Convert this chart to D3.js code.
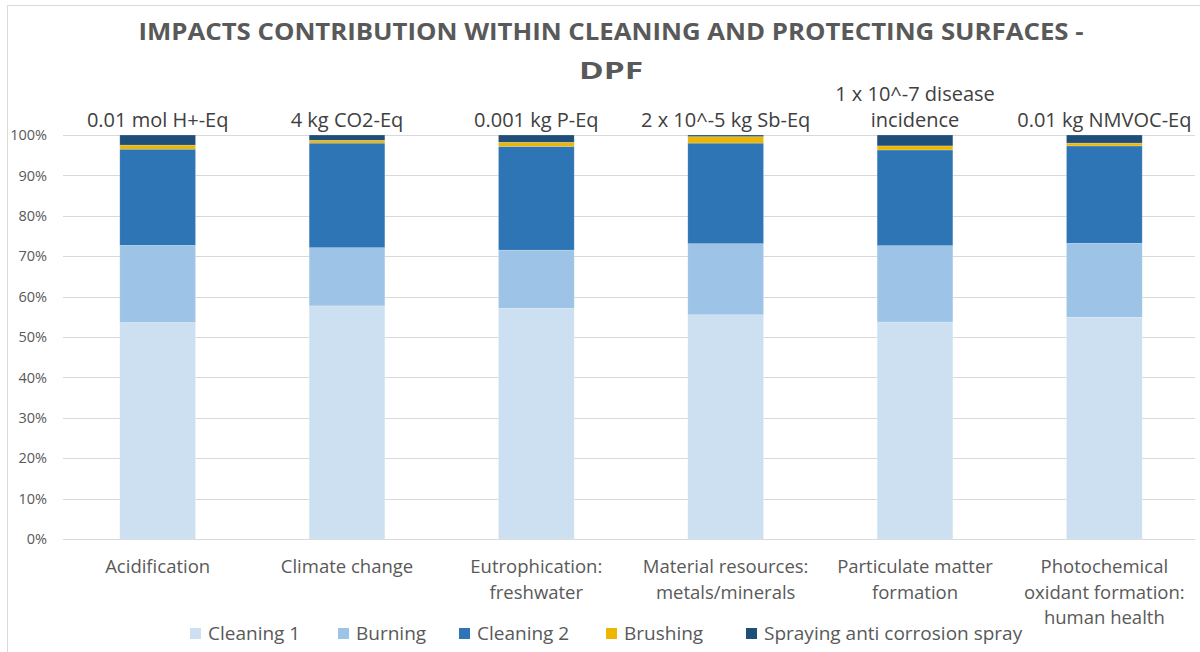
<!DOCTYPE html>
<html>
<head>
<meta charset="utf-8">
<script src="https://cdn.jsdelivr.net/npm/d3@7"></script>
<style>
  html, body { margin: 0; padding: 0; background: #fff; }
  svg { display: block; font-family: "Open Sans", "Noto Sans", sans-serif; }
</style>
</head>
<body>
<svg id="chart" width="1200" height="652"></svg>
<script>
const categories = [
  ["Acidification"],
  ["Climate change"],
  ["Eutrophication:", "freshwater"],
  ["Material resources:", "metals/minerals"],
  ["Particulate matter", "formation"],
  ["Photochemical", "oxidant formation:", "human health"]
];
const unitLabels = [
  ["0.01 mol H+-Eq"],
  ["4 kg CO2-Eq"],
  ["0.001 kg P-Eq"],
  ["2 x 10^-5 kg Sb-Eq"],
  ["1 x 10^-7 disease", "incidence"],
  ["0.01 kg NMVOC-Eq"]
];
const seriesNames = ["Cleaning 1", "Burning", "Cleaning 2", "Brushing", "Spraying anti corrosion spray"];
const cleaning1 = [53.6, 57.7, 57.1, 55.5, 53.7, 54.9];
const burning   = [19.1, 14.4, 14.4, 17.6, 18.9, 18.3];
const cleaning2 = [23.8, 25.9, 25.7, 24.9, 23.7, 24.1];
const brushing  = [1.0, 0.7, 1.0, 1.6, 1.0, 0.7];
const spraying  = [2.5, 1.3, 1.8, 0.4, 2.7, 2.0];
const yTicks = [0, 10, 20, 30, 40, 50, 60, 70, 80, 90, 100];
const colors = ["#CCE0F1", "#9DC3E6", "#2E75B6", "#EDB600", "#1F4E79"];

const svg = d3.select("#chart");
const W = 1200, H = 652;
const margin = {left: 63, right: 1, top: 135, bottom: 113};

// outer chart border
svg.append("rect").attr("x", 7.5).attr("y", 5.5).attr("width", W).attr("height", H)
  .attr("fill", "none").attr("stroke", "#D9D9D9").attr("stroke-width", 1);

const idx = d3.range(categories.length);
const x = d3.scaleBand().domain(idx).range([margin.left, W - margin.right]).paddingInner(0.6).paddingOuter(0.3);
const y = d3.scaleLinear().domain([0, 100]).range([H - margin.bottom, margin.top]);

// gridlines
svg.append("g").selectAll("line").data(yTicks).join("line")
  .attr("x1", margin.left).attr("x2", W - 5)
  .attr("y1", d => Math.round(y(d)) + 0.5).attr("y2", d => Math.round(y(d)) + 0.5)
  .attr("stroke", "#D9D9D9").attr("stroke-width", 1);

// y axis labels
const yAxis = d3.axisLeft(y).tickValues(yTicks).tickFormat(d => d + "%").tickSize(0).tickPadding(0);
const gy = svg.append("g").attr("transform", `translate(${47},0)`).call(yAxis);
gy.select(".domain").remove();
gy.selectAll("text").attr("fill", "#595959").style("font-size", "14.5px").style("font-family", "Open Sans, sans-serif");

// stacked data
const rows = idx.map(i => ({i, v: [cleaning1[i], burning[i], cleaning2[i], brushing[i], spraying[i]]}));
const stack = d3.stack().keys(d3.range(5)).value((d, k) => d.v[k]);
const layers = stack(rows);

svg.append("g").selectAll("g").data(layers).join("g")
  .attr("fill", (d, k) => colors[k])
  .selectAll("rect").data(d => d).join("rect")
  .attr("x", d => x(d.data.i))
  .attr("width", x.bandwidth())
  .attr("y", d => y(d[1]))
  .attr("height", d => y(d[0]) - y(d[1]))
  .attr("stroke", "#ffffff").attr("stroke-opacity", 0.35).attr("stroke-width", 0.6);

// category labels
const catG = svg.append("g");
idx.forEach(i => {
  const t = catG.append("text").attr("text-anchor", "middle")
    .attr("fill", "#595959").style("font-size", "18.5px");
  categories[i].forEach((line, j) => {
    t.append("tspan").attr("x", x(i) + x.bandwidth() / 2).attr("y", 573 + j * 25.5).text(line);
  });
});

// unit labels above bars
const unitG = svg.append("g");
idx.forEach(i => {
  const lines = unitLabels[i];
  const t = unitG.append("text").attr("text-anchor", "middle")
    .attr("fill", "#404040").style("font-size", "20px");
  lines.forEach((line, j) => {
    t.append("tspan").attr("x", x(i) + x.bandwidth() / 2)
      .attr("y", 127 - (lines.length - 1 - j) * 26).text(line);
  });
});

// title
const title = svg.append("text").attr("text-anchor", "middle").attr("fill", "#595959")
  .style("font-size", "24px").style("font-weight", "bold");
title.append("tspan").attr("x", 611).attr("y", 40)
  .attr("textLength", 945).attr("lengthAdjust", "spacingAndGlyphs")
  .text("IMPACTS CONTRIBUTION WITHIN CLEANING AND PROTECTING SURFACES -");
title.append("tspan").attr("x", 611).attr("y", 79)
  .attr("textLength", 64).attr("lengthAdjust", "spacingAndGlyphs")
  .text("DPF");

// legend
const legendX = [190, 338, 459, 606, 746];
const legend = svg.append("g");
seriesNames.forEach((name, k) => {
  const g = legend.append("g").attr("transform", `translate(${legendX[k]},${628})`);
  g.append("rect").attr("width", 11).attr("height", 11).attr("fill", colors[k]);
  g.append("text").attr("x", 18).attr("y", 12).attr("fill", "#595959")
    .style("font-size", "19px").text(name);
});
</script>
</body>
</html>
